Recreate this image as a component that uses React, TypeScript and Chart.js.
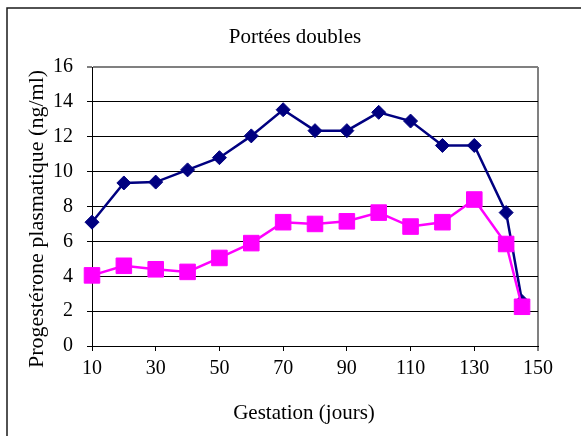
import React, { useEffect, useRef } from "react";
import { Chart, registerables } from "chart.js";

Chart.register(...registerables);

const chartTitle = "Portées doubles";
const xTitle = "Gestation (jours)";
const yTitle = "Progestérone plasmatique (ng/ml)";

const days = [10, 20, 30, 40, 50, 60, 70, 80, 90, 100, 110, 120, 130, 140, 145];
const navySeries = [7.1, 9.35, 9.4, 10.1, 10.8, 12.05, 13.55, 12.35, 12.35, 13.4, 12.9, 11.5, 11.5, 7.65, 2.55];
const magentaSeries = [4.05, 4.6, 4.4, 4.25, 5.05, 5.9, 7.1, 7.0, 7.15, 7.65, 6.85, 7.1, 8.4, 5.85, 2.25];

const xMin = 10;
const xMax = 150;
const xStep = 20;
const yMin = 0;
const yMax = 16;
const yStep = 2;

const FONT = "'Liberation Serif', 'Times New Roman', serif";

const textPlugin = {
  id: "textPlugin",
  beforeDraw(chart: any) {
    const ctx = chart.ctx;
    ctx.save();
    ctx.strokeStyle = "#1a1a1a";
    ctx.lineWidth = 1.5;
    ctx.beginPath();
    ctx.moveTo(7, 436);
    ctx.lineTo(7, 8);
    ctx.lineTo(581, 8);
    ctx.stroke();
    ctx.restore();
  },
  afterDraw(chart: any) {
    const ctx = chart.ctx;
    ctx.save();
    ctx.fillStyle = "#000";
    ctx.font = `21px ${FONT}`;
    ctx.textAlign = "center";
    ctx.textBaseline = "middle";
    ctx.fillText(chartTitle, 295, 37);
    ctx.fillText(xTitle, 304, 413);
    ctx.font = `22px ${FONT}`;
    ctx.translate(37, 219);
    ctx.rotate(-Math.PI / 2);
    ctx.fillText(yTitle, 0, 0);
    ctx.restore();
  },
};

export default function App() {
  const ref = useRef<HTMLCanvasElement | null>(null);

  useEffect(() => {
    if (!ref.current) return;
    const chart = new Chart(ref.current, {
      type: "line",
      data: {
        datasets: [
          {
            label: "b",
            data: days.map((d, i) => ({ x: d, y: magentaSeries[i] })),
            borderColor: "#ff00ff",
            backgroundColor: "#ff00ff",
            borderWidth: 2.5,
            pointStyle: "rect",
            pointRadius: 11,
            pointBorderWidth: 1,
            pointBorderColor: "#ff00ff",
            pointBackgroundColor: "#ff00ff",
            clip: false,
            order: 0,
          },
          {
            label: "a",
            data: days.map((d, i) => ({ x: d, y: navySeries[i] })),
            borderColor: "#000080",
            backgroundColor: "#000080",
            borderWidth: 2.5,
            pointStyle: "rectRot",
            pointRadius: 7,
            pointBorderWidth: 1,
            pointBorderColor: "#000080",
            pointBackgroundColor: "#000080",
            clip: false,
            order: 1,
          },
        ],
      },
      options: {
        responsive: false,
        animation: false,
        layout: { padding: { left: 0, right: 43, top: 67, bottom: 0 } },
        plugins: {
          legend: { display: false },
          title: { display: false },
          tooltip: { enabled: false },
        },
        scales: {
          x: {
            type: "linear",
            min: xMin,
            max: xMax,
            afterFit(scale: any) {
              scale.height = 90;
            },
            ticks: {
              stepSize: xStep,
              color: "#000",
              padding: 6,
              maxRotation: 0,
              font: { family: FONT, size: 20 },
            },
            grid: {
              drawOnChartArea: true,
              color: (c: any) => (c.tick && c.tick.value === xMax ? "#808080" : "rgba(0,0,0,0)"),
              lineWidth: (c: any) => (c.tick && c.tick.value === xMax ? 2 : 1),
              tickColor: "#000",
              tickLength: 5,
              tickWidth: 1,
            },
            border: { color: "#000", width: 1 },
          },
          y: {
            type: "linear",
            min: yMin,
            max: yMax,
            afterFit(scale: any) {
              scale.width = 92;
            },
            ticks: {
              stepSize: yStep,
              color: "#000",
              padding: 14,
              font: { family: FONT, size: 20 },
            },
            grid: {
              color: (c: any) => (c.tick && c.tick.value === yMax ? "#808080" : "#000"),
              lineWidth: (c: any) => (c.tick && c.tick.value === yMax ? 2 : 1),
              tickColor: "#000",
              tickLength: 5,
              tickWidth: 1,
            },
            border: { color: "#000", width: 1 },
          },
        },
      },
      plugins: [textPlugin],
    } as any);
    return () => chart.destroy();
  }, []);

  return (
    <div style={{ position: "absolute", left: 0, top: 0, width: 581, height: 436, background: "#fff" }}>
      <canvas ref={ref} width={581} height={436} style={{ display: "block" }} />
    </div>
  );
}
